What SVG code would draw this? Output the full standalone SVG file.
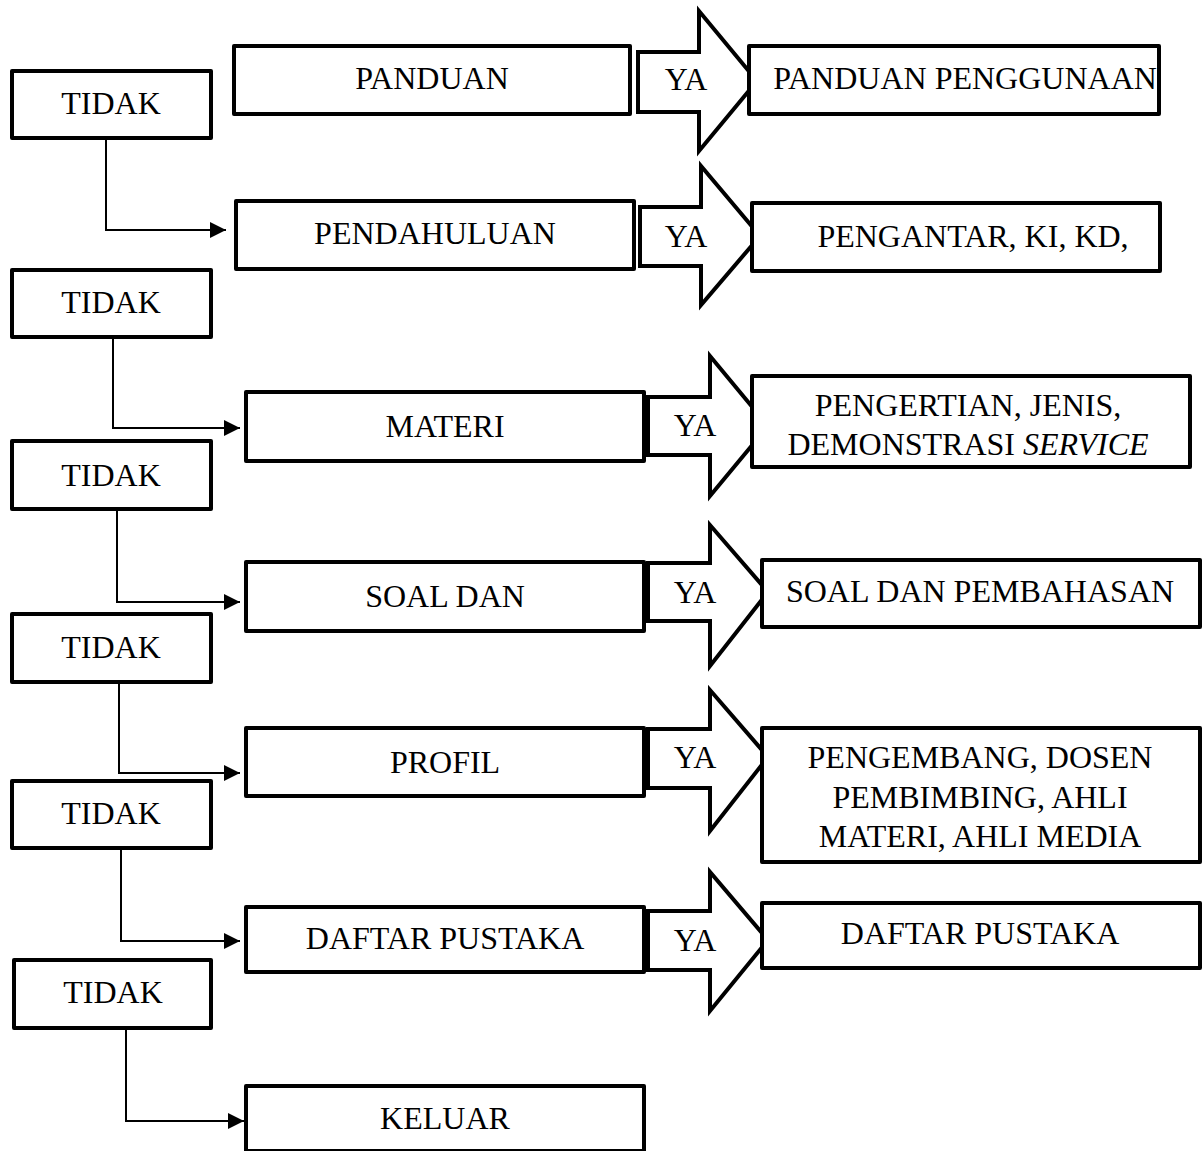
<svg xmlns="http://www.w3.org/2000/svg" width="1202" height="1151" viewBox="0 0 1202 1151">
<style>
.box{fill:#fff;stroke:#000;stroke-width:4;stroke-linejoin:round}
.arr{fill:#fff;stroke:#000;stroke-width:4;stroke-linejoin:miter}
.con{fill:none;stroke:#000;stroke-width:2}
text{font-family:"Liberation Serif","Times New Roman",serif;font-size:32px;fill:#000;text-anchor:middle}
</style>
<defs>
<marker id="ah" markerWidth="8" markerHeight="8" refX="8" refY="4" orient="auto" markerUnits="strokeWidth">
<path d="M0,0 L8,4 L0,8 Z" fill="#000"/>
</marker>
</defs>
<rect width="1202" height="1151" fill="#fff"/>
<g id="connectors">
<polyline class="con" points="106,138 106,230 226,230" marker-end="url(#ah)"/>
<polyline class="con" points="113,337 113,428 240,428" marker-end="url(#ah)"/>
<polyline class="con" points="117,509 117,602 240,602" marker-end="url(#ah)"/>
<polyline class="con" points="119,682 119,773 240,773" marker-end="url(#ah)"/>
<polyline class="con" points="121,848 121,941 240,941" marker-end="url(#ah)"/>
<polyline class="con" points="126,1028 126,1121 244,1121" marker-end="url(#ah)"/>
</g>
<g id="tidak1"><rect class="box" x="12" y="71" width="199" height="67"/><text x="111" y="114">TIDAK</text></g>
<g id="panduan"><rect class="box" x="234" y="46" width="396" height="68"/><text x="432" y="89">PANDUAN</text></g>
<g id="ya1"><polygon class="arr" points="638,52 699,52 699,11 757,81 699,151 699,112 638,112"/><text x="686" y="90">YA</text></g>
<g id="panduan-penggunaan"><rect class="box" x="749" y="46" width="410" height="68"/><text x="965" y="89">PANDUAN PENGGUNAAN</text></g>

<g id="pendahuluan"><rect class="box" x="236" y="201" width="398" height="68"/><text x="435" y="244">PENDAHULUAN</text></g>
<g id="ya2"><polygon class="arr" points="640,207 701,207 701,166 760,236 701,305 701,266 640,266"/><text x="686" y="247">YA</text></g>
<g id="pengantar"><rect class="box" x="752" y="203" width="408" height="68"/><text x="973" y="247">PENGANTAR, KI, KD,</text></g>
<g id="tidak2"><rect class="box" x="12" y="270" width="199" height="67"/><text x="111" y="313">TIDAK</text></g>

<g id="materi"><rect class="box" x="246" y="392" width="398" height="69"/><text x="445" y="437">MATERI</text></g>
<g id="ya3"><polygon class="arr" points="648,397 710,397 710,356 768,426 710,496 710,455 648,455"/><text x="695" y="436">YA</text></g>
<g id="pengertian"><rect class="box" x="752" y="376" width="438" height="91"/><text x="968" y="416">PENGERTIAN, JENIS,</text><text x="968" y="455">DEMONSTRASI <tspan font-style="italic">SERVICE</tspan></text></g>
<g id="tidak3"><rect class="box" x="12" y="441" width="199" height="68"/><text x="111" y="486">TIDAK</text></g>

<g id="soal"><rect class="box" x="246" y="562" width="398" height="69"/><text x="445" y="607">SOAL DAN</text></g>
<g id="ya4"><polygon class="arr" points="648,563 710,563 710,525 768,592 710,666 710,621 648,621"/><text x="695" y="603">YA</text></g>
<g id="soal-pembahasan"><rect class="box" x="762" y="560" width="438" height="67"/><text x="980" y="602">SOAL DAN PEMBAHASAN</text></g>
<g id="tidak4"><rect class="box" x="12" y="614" width="199" height="68"/><text x="111" y="658">TIDAK</text></g>

<g id="profil"><rect class="box" x="246" y="728" width="398" height="68"/><text x="445" y="773">PROFIL</text></g>
<g id="ya5"><polygon class="arr" points="648,729 710,729 710,690 768,757 710,831 710,788 648,788"/><text x="695" y="768">YA</text></g>
<g id="pengembang"><rect class="box" x="762" y="728" width="438" height="134"/><text x="980" y="768">PENGEMBANG, DOSEN</text><text x="980" y="808">PEMBIMBING, AHLI</text><text x="980" y="847">MATERI, AHLI MEDIA</text></g>
<g id="tidak5"><rect class="box" x="12" y="781" width="199" height="67"/><text x="111" y="824">TIDAK</text></g>

<g id="daftar"><rect class="box" x="246" y="907" width="398" height="65"/><text x="445" y="949">DAFTAR PUSTAKA</text></g>
<g id="ya6"><polygon class="arr" points="648,911 710,911 710,872 768,940 710,1011 710,970 648,970"/><text x="695" y="951">YA</text></g>
<g id="daftar-pustaka"><rect class="box" x="762" y="903" width="438" height="65"/><text x="980" y="944">DAFTAR PUSTAKA</text></g>
<g id="tidak6"><rect class="box" x="14" y="960" width="197" height="68"/><text x="113" y="1003">TIDAK</text></g>

<g id="keluar"><rect class="box" x="246" y="1086" width="398" height="65"/><text x="445" y="1129">KELUAR</text></g>
</svg>
